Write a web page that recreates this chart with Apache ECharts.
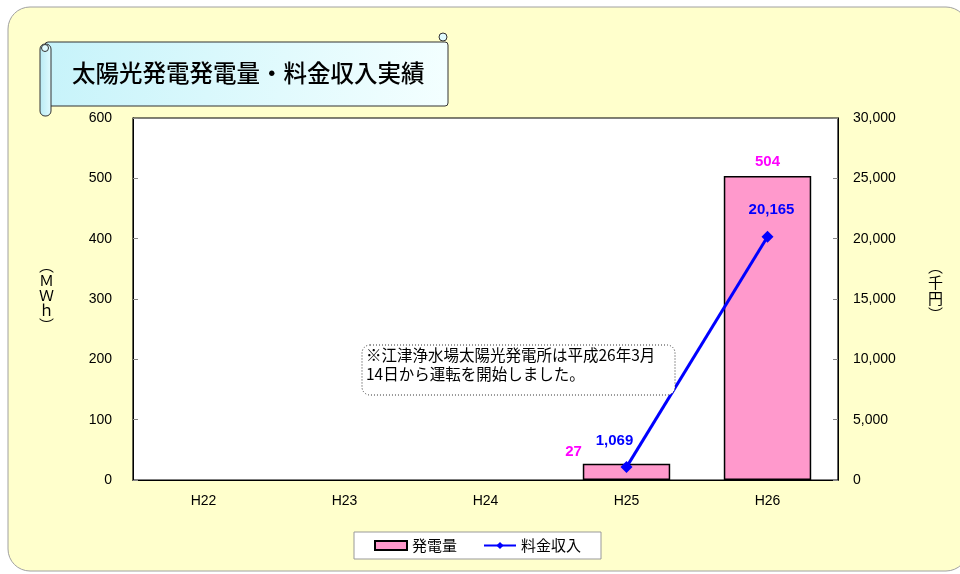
<!DOCTYPE html>
<html><head><meta charset="utf-8">
<script src="https://cdn.jsdelivr.net/npm/echarts@6/dist/echarts.min.js"></script>
<style>html,body{margin:0;padding:0;background:#fff}#c{width:960px;height:574px}</style>
</head><body><div id="c"></div>
<script>
const categories = ['H22', 'H23', 'H24', 'H25', 'H26'];
const generation = [null, null, null, 27, 504];      // 発電量 (MWh)
const revenue = [null, null, null, 1069, 20165];     // 料金収入 (千円)
const leftTicks = { min: 0, max: 600, interval: 100 };
const rightTicks = { min: 0, max: 30000, interval: 5000 };
const titleText = '太陽光発電発電量・料金収入実績';
const noteLines = ['※江津浄水場太陽光発電所は平成26年3月', '14日から運転を開始しました。'];

const FONT = "'Liberation Sans','Noto Sans CJK JP',sans-serif";
const JFONT = "'Noto Sans CJK JP',sans-serif";
const fmt = v => Number(v).toLocaleString('en-US');

const chart = echarts.init(document.getElementById('c'));
const barLabelOffsets = [null, null, null, [-53, 3], [0, 0]];
const lineLabelOffsets = [null, null, null, [-12, 0], [4, 0]];

chart.setOption({
  animation: false,
  textStyle: { fontFamily: FONT },
  grid: { left: 133, right: 122, top: 118, bottom: 94, show: true, backgroundColor: '#fff', borderColor: '#000', borderWidth: 1.2 },
  legend: {
    left: 354, top: 532, width: 243, height: 29,
    backgroundColor: '#fff', borderColor: '#999', borderWidth: 1,
    padding: [6, 20, 6, 20], itemGap: 26, itemWidth: 32, itemHeight: 9,
    textStyle: { fontFamily: JFONT, fontSize: 15, color: '#000' },
    data: [
      { name: '発電量', icon: 'rect' },
      { name: '料金収入' }
    ]
  },
  xAxis: {
    type: 'category', data: categories,
    axisLine: { lineStyle: { color: '#000', width: 1.2 } },
    axisTick: { inside: true, length: 5, lineStyle: { color: '#888' } },
    axisLabel: { color: '#000', fontSize: 14, margin: 14, fontFamily: FONT }
  },
  yAxis: [
    {
      type: 'value', min: leftTicks.min, max: leftTicks.max, interval: leftTicks.interval,
      axisLine: { show: true, lineStyle: { color: '#000' } },
      axisTick: { show: true, inside: true, length: 5, lineStyle: { color: '#888' } },
      splitLine: { show: false },
      axisLabel: { color: '#000', fontSize: 14, margin: 21 }
    },
    {
      type: 'value', position: 'right', min: rightTicks.min, max: rightTicks.max, interval: rightTicks.interval,
      axisLine: { show: true, lineStyle: { color: '#000' } },
      axisTick: { show: true, inside: true, length: 5, lineStyle: { color: '#888' } },
      splitLine: { show: false },
      axisLabel: { color: '#000', fontSize: 14, margin: 15, formatter: v => fmt(v) }
    }
  ],
  series: [
    {
      name: '発電量', type: 'bar', yAxisIndex: 0, barWidth: '62%',
      data: generation.map((v, i) => ({
        value: v,
        label: barLabelOffsets[i] ? { offset: barLabelOffsets[i] } : undefined
      })),
      itemStyle: { color: '#FF99CC', borderColor: '#000', borderWidth: 1.5 },
      label: { show: true, position: 'top', distance: 7, color: '#FF00FF', fontWeight: 'bold', fontSize: 15, fontFamily: FONT }
    },
    {
      name: '料金収入', type: 'line', yAxisIndex: 1,
      data: revenue.map((v, i) => ({
        value: v,
        label: lineLabelOffsets[i] ? { offset: lineLabelOffsets[i] } : undefined
      })),
      symbol: 'diamond', symbolSize: 12,
      lineStyle: { color: '#0000FF', width: 3 },
      itemStyle: { color: '#0000FF' },
      label: { show: true, position: 'top', distance: 13, color: '#0000FF', fontWeight: 'bold', fontSize: 15, fontFamily: FONT, formatter: p => fmt(p.value) },
      z: 5
    }
  ],
  graphic: [
    { type: 'rect', z: -10, shape: { x: 8, y: 7, width: 960, height: 564, r: 22 }, style: { fill: '#FFFFCC', stroke: '#A0A0A0', lineWidth: 1 } },
    // scroll banner
    { type: 'rect', z: 10, shape: { x: 45, y: 42, width: 403, height: 64, r: 3 },
      style: { fill: new echarts.graphic.LinearGradient(0, 0, 1, 1, [{ offset: 0, color: '#C6F3FA' }, { offset: 1, color: '#F4FFFF' }]), stroke: '#333', lineWidth: 1 } },
    { type: 'rect', z: 11, shape: { x: 40, y: 44, width: 11, height: 72, r: 5 },
      style: { fill: new echarts.graphic.LinearGradient(0, 0, 1, 0, [{ offset: 0, color: '#B8EAF4' }, { offset: 1, color: '#E0FBFF' }]), stroke: '#333', lineWidth: 1 } },
    { type: 'circle', z: 12, shape: { cx: 45, cy: 48, r: 3.5 }, style: { fill: '#E0FBFF', stroke: '#333', lineWidth: 1 } },
    { type: 'circle', z: 12, shape: { cx: 443, cy: 37, r: 4 }, style: { fill: '#E0FBFF', stroke: '#333', lineWidth: 1 } },
    { type: 'text', z: 13, left: 72, top: 61, style: { text: titleText, font: '500 23.5px ' + JFONT, fill: '#000' } },
    // axis names
    { type: 'text', z: 13, left: 39, top: 258, style: { text: '︵\nＭ\nＷ\nｈ\n︶', font: '15px ' + JFONT, fill: '#000', lineHeight: 15 } },
    { type: 'text', z: 13, left: 928, top: 258, style: { text: '︵\n千\n円\n︶', font: '15px ' + JFONT, fill: '#000', lineHeight: 16 } },
    // note
    { type: 'rect', z: 13, shape: { x: 362, y: 345, width: 313, height: 50, r: 8 }, style: { fill: '#fff', stroke: '#333', lineWidth: 1, lineDash: [1, 2] } },
    { type: 'text', z: 14, left: 366, top: 346, style: { text: noteLines.join('\n'), font: '15.5px ' + JFONT, fill: '#000', lineHeight: 19 } }
  ]
});
</script></body></html>
